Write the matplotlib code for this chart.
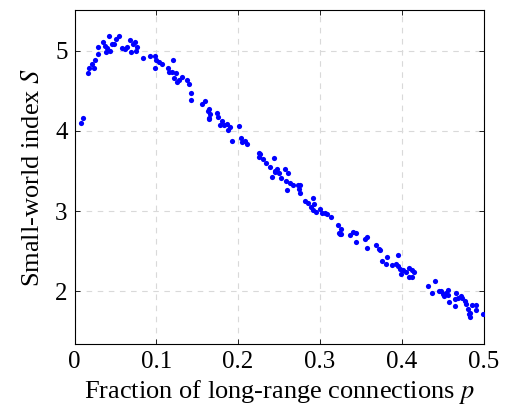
import numpy as np
import matplotlib
matplotlib.use("Agg")
import matplotlib.pyplot as plt

# fraction of long-range connections p
p = [0.008, 0.011, 0.017, 0.018, 0.021, 0.024, 0.025, 0.029, 0.029, 0.035,
     0.037, 0.038, 0.040, 0.042, 0.044, 0.046, 0.048, 0.051, 0.055, 0.058,
     0.062, 0.064, 0.068, 0.069, 0.072, 0.074, 0.075, 0.076, 0.084, 0.092,
     0.098, 0.100, 0.099, 0.103, 0.107, 0.114, 0.116, 0.121, 0.119, 0.122,
     0.124, 0.125, 0.128, 0.132, 0.137, 0.140, 0.142, 0.142, 0.156, 0.159,
     0.163, 0.165, 0.164, 0.166, 0.165, 0.174, 0.175, 0.178, 0.180, 0.183,
     0.187, 0.188, 0.190, 0.192, 0.201, 0.204, 0.205, 0.209, 0.211, 0.225,
     0.227, 0.226, 0.231, 0.234, 0.244, 0.239, 0.245, 0.241, 0.247, 0.245,
     0.250, 0.252, 0.257, 0.261, 0.259, 0.264, 0.267, 0.260, 0.273, 0.276,
     0.274, 0.276, 0.282, 0.286, 0.292, 0.289, 0.291, 0.293, 0.295, 0.300,
     0.303, 0.306, 0.309, 0.313, 0.322, 0.324, 0.326, 0.326, 0.323, 0.337,
     0.340, 0.344, 0.344, 0.355, 0.358, 0.358, 0.368, 0.372, 0.374, 0.382,
     0.376, 0.381, 0.388, 0.395, 0.393, 0.396, 0.398, 0.402, 0.399, 0.405,
     0.409, 0.409, 0.412, 0.413, 0.415, 0.432, 0.437, 0.441, 0.446, 0.448,
     0.451, 0.452, 0.454, 0.456, 0.457, 0.458, 0.465, 0.466, 0.465, 0.469,
     0.472, 0.474, 0.477, 0.478, 0.481, 0.482, 0.483, 0.484, 0.486, 0.491,
     0.491, 0.499]

# small-world index S
S = [4.10, 4.16, 4.72, 4.78, 4.83, 4.78, 4.88, 4.96, 5.05, 5.11,
     5.06, 4.99, 5.03, 5.18, 5.00, 5.09, 5.08, 5.15, 5.18, 5.03,
     5.02, 5.05, 5.14, 4.98, 5.08, 5.11, 5.00, 5.05, 4.91, 4.93,
     4.93, 4.89, 4.78, 4.86, 4.83, 4.78, 4.73, 4.89, 4.73, 4.66,
     4.72, 4.61, 4.63, 4.67, 4.63, 4.58, 4.47, 4.39, 4.34, 4.37,
     4.25, 4.28, 4.15, 4.21, 4.16, 4.22, 4.18, 4.08, 4.13, 4.07,
     4.09, 4.01, 4.05, 3.88, 4.06, 3.91, 3.86, 3.88, 3.84, 3.73,
     3.71, 3.67, 3.65, 3.60, 3.66, 3.55, 3.50, 3.43, 3.53, 3.49,
     3.48, 3.41, 3.53, 3.48, 3.38, 3.35, 3.33, 3.26, 3.32, 3.33,
     3.27, 3.23, 3.13, 3.10, 3.16, 3.05, 3.01, 3.09, 2.99, 3.02,
     2.98, 2.98, 2.96, 2.93, 2.83, 2.71, 2.78, 2.71, 2.72, 2.70,
     2.74, 2.72, 2.61, 2.65, 2.68, 2.54, 2.58, 2.53, 2.51, 2.43,
     2.38, 2.34, 2.33, 2.45, 2.34, 2.31, 2.28, 2.26, 2.21, 2.24,
     2.29, 2.18, 2.26, 2.18, 2.24, 2.07, 1.98, 2.13, 2.00, 2.00,
     1.97, 1.94, 1.98, 2.02, 1.95, 1.87, 1.90, 1.98, 1.82, 1.92,
     1.94, 1.91, 1.88, 1.84, 1.78, 1.72, 1.68, 1.73, 1.83, 1.83,
     1.76, 1.72]

xticks = [0, 0.1, 0.2, 0.3, 0.4, 0.5]
xticklabels = ["0", "0.1", "0.2", "0.3", "0.4", "0.5"]
yticks = [2, 3, 4, 5]

plt.rcParams['font.family'] = ['Liberation Serif', 'DejaVu Serif']
plt.rcParams['mathtext.fontset'] = 'stix'

fig = plt.figure(figsize=(5.05, 4.13), dpi=100)
ax = fig.add_axes([74.5 / 505, 1 - 344 / 413, 409 / 505, 334 / 413])

ax.scatter(p, S, s=14, color='#0000ff', linewidths=0, zorder=3)

ax.set_xlim(0, 0.5)
ax.set_ylim(1.34, 5.51)
ax.set_xticks(xticks)
ax.set_xticklabels(xticklabels)
ax.set_yticks(yticks)
ax.grid(True, color='#d9d9d9', linestyle=(0, (5, 5)), linewidth=0.8)
ax.tick_params(direction='in', length=3.5, labelsize=18, width=0.6,
               top=True, right=True, pad=5)
for sp in ax.spines.values():
    sp.set_linewidth(0.8)

ax.set_xlabel("Fraction of long-range connections $p$", fontsize=19, labelpad=4)
ax.set_ylabel("Small-world index $S$", fontsize=19, labelpad=8)

fig.savefig("out.png", dpi=100)
